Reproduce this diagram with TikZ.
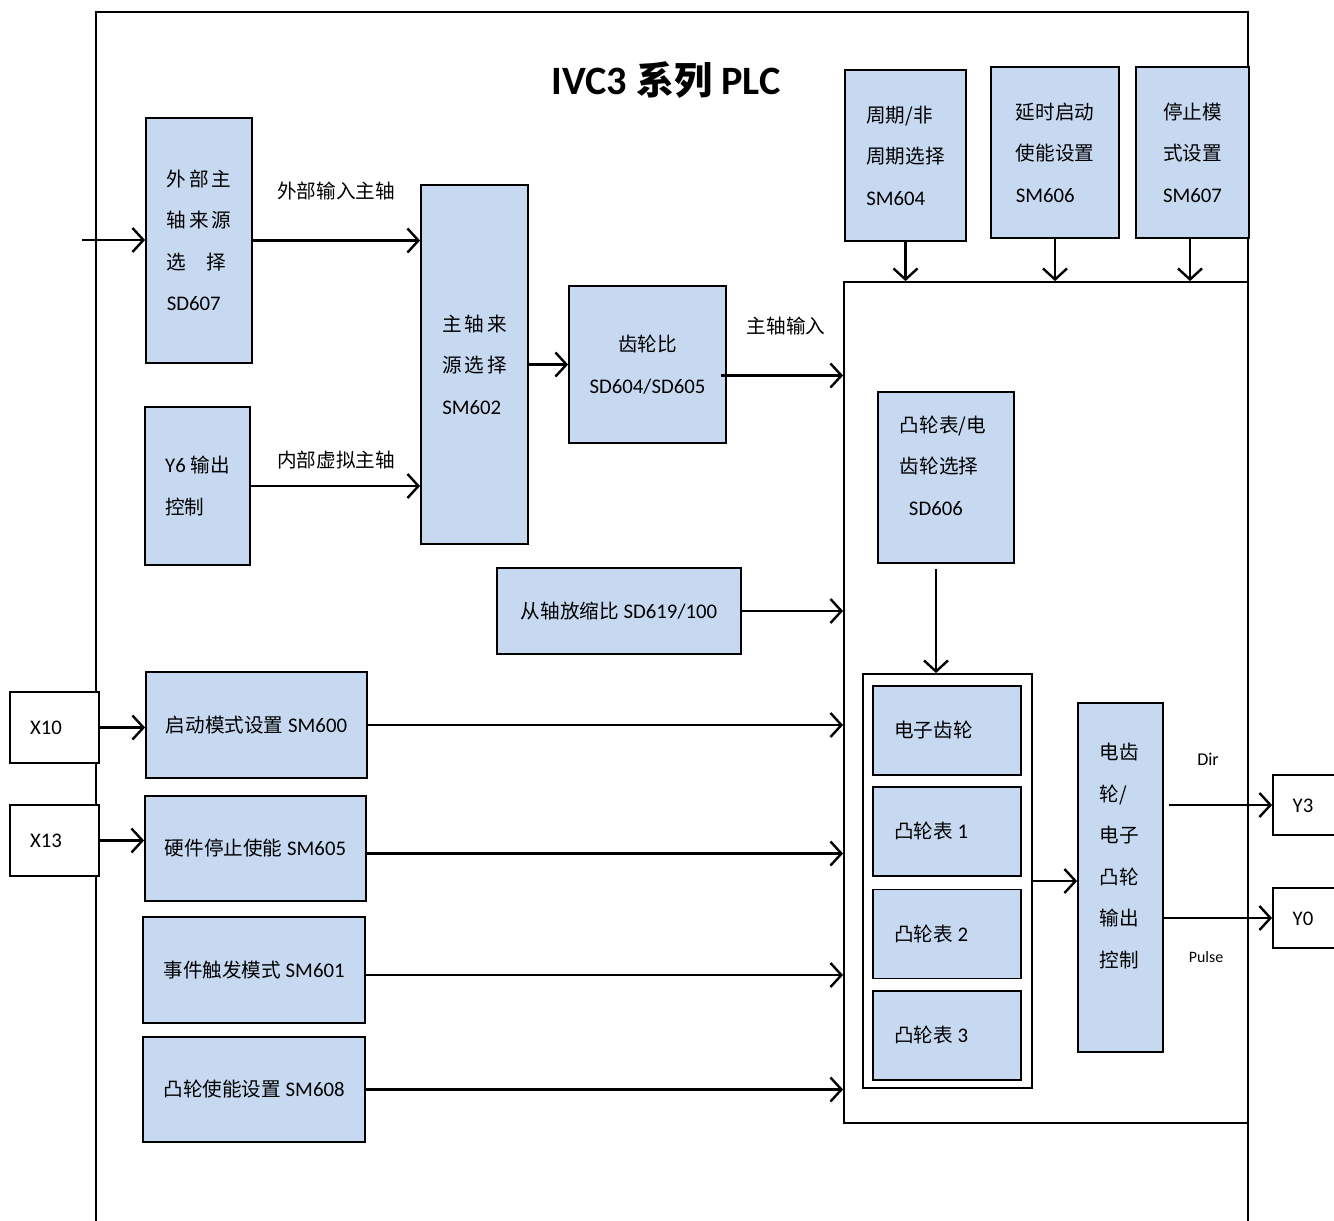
\documentclass[tikz,border=0pt]{standalone}
\usepackage{fontspec}
\setmainfont{Carlito}[Scale=1.06]
\newfontfamily\cjk{Noto Sans CJK SC}
\newfontfamily\cjksp[LetterSpace=14]{Noto Sans CJK SC}
\usetikzlibrary{arrows.meta}
\definecolor{boxblue}{HTML}{C6D9F1}
\newcommand\C[1]{{\cjk #1}}
\begin{document}
\begin{tikzpicture}[x=1pt,y=-1pt,
  box/.style={draw=black, line width=1.8pt, fill=boxblue, inner sep=0pt,
    font=\fontsize{19.6}{41.5}\selectfont},
  wbox/.style={draw=black, line width=1.8pt, fill=white, inner sep=0pt},
  txt/.style={inner sep=0pt, font=\fontsize{19.6}{41.5}\selectfont},
  arr/.style={line width=2.4pt, -{Straight Barb[length=11pt,width=24pt]}}]
\path[use as bounding box] (0,0) rectangle (1334,1221);
\clip (0,0) rectangle (1334,1221);

% outer frame
\draw[line width=2pt] (96,1230) -- (96,12) -- (1248,12) -- (1248,1230);
\node[inner sep=0pt, font=\fontsize{38}{42}\selectfont\bfseries] (title) at (666,80) {IVC3 {\cjk 系列} PLC};

% core box
\node[draw=black, line width=1.8pt, fill=white, minimum width=404pt, minimum height=841pt, inner sep=0pt] (core) at (1046,702.5) {};

% left column
\node[box, minimum width=106pt, minimum height=245pt, align=left] (sd607) at (199,240.5)
  {{\cjksp 外部主}\\{\cjksp 轴来源}\\{\cjksp 选\quad 择}\\SD607};
\node[box, minimum width=105pt, minimum height=158pt, align=left] (y6) at (197.5,486)
  {Y6 \C{输出}\\\C{控制}};
\node[box, minimum width=107pt, minimum height=359pt, align=left] (sm602) at (474.5,364.5)
  {{\cjksp 主轴来}\\{\cjksp 源选择}\\SM602};
\node[box, minimum width=157pt, minimum height=157pt, align=center] (gear) at (647.5,364.5)
  {\C{齿轮比}\\SD604/SD605};
\node[box, minimum width=244pt, minimum height=86pt] (sd619) at (619,611)
  {\C{从轴放缩比} SD619/100};

% top boxes
\node[box, minimum width=121pt, minimum height=171pt, align=left] (sm604) at (905.5,155.5)
  {\C{周期/非}\\\C{周期选择}\\SM604};
\node[box, minimum width=128pt, minimum height=171pt, align=left] (sm606) at (1055,152.5)
  {\C{延时启动}\\\C{使能设置}\\SM606};
\node[box, minimum width=113pt, minimum height=171pt, align=left] (sm607) at (1192.5,152.5)
  {\C{停止模}\\\C{式设置}\\SM607};

% SD606
\node[box, minimum width=136pt, minimum height=171pt] (sd606) at (946,477.5) {};
\node[txt, align=left] (sd606t) at (943,465.5) {\C{凸轮表/电}\\\C{齿轮选择}\\\hspace{9pt}SD606};

% group
\node[wbox, minimum width=169pt, minimum height=414pt] (group) at (947.5,881) {};
\node[box, minimum width=148pt, minimum height=89pt] (eg) at (947,730.5) {};
\node[box, minimum width=148pt, minimum height=89pt] (cam1) at (947,831.5) {};
\node[box, minimum width=148pt, minimum height=89pt] (cam2) at (947,934) {};
\node[box, minimum width=148pt, minimum height=89pt] (cam3) at (947,1035.5) {};
\node[txt, anchor=west] (egt) at (894,730.5) {\C{电子齿轮}};
\node[txt, anchor=west] (cam1t) at (894,831.5) {\C{凸轮表} 1};
\node[txt, anchor=west] (cam2t) at (894,934) {\C{凸轮表} 2};
\node[txt, anchor=west] (cam3t) at (894,1035.5) {\C{凸轮表} 3};

% control
\node[box, minimum width=85pt, minimum height=349pt] (ctrl) at (1120.5,877.5) {};
\node[txt, align=left] (ctrlt) at (1119,856)
  {\C{电齿}\\\C{轮/}\\\C{电子}\\\C{凸轮}\\\C{输出}\\\C{控制}};

% outputs
\node[wbox, minimum width=72pt, minimum height=60pt] (y3) at (1309,805) {};
\node[txt] (y3t) at (1303,806) {Y3};
\node[wbox, minimum width=72pt, minimum height=60pt] (y0) at (1309,918) {};
\node[txt] (y0t) at (1303,919) {Y0};

% inputs
\node[wbox, minimum width=89pt, minimum height=71pt] (x10) at (54.5,727.5) {};
\node[txt] (x10t) at (46,727.5) {X10};
\node[wbox, minimum width=89pt, minimum height=71pt] (x13) at (54.5,840.5) {};
\node[txt] (x13t) at (46,841) {X13};

% wide boxes
\node[box, minimum width=221pt, minimum height=106pt] (sm600) at (256.5,725) {\C{启动模式设置} SM600};
\node[box, minimum width=221pt, minimum height=105pt] (sm605) at (255.5,848.5) {\C{硬件停止使能} SM605};
\node[box, minimum width=222pt, minimum height=106pt] (sm601) at (254,970) {\C{事件触发模式} SM601};
\node[box, minimum width=222pt, minimum height=105pt] (sm608) at (254,1089.5) {\C{凸轮使能设置} SM608};

% labels
\node[txt] (l1) at (336,191) {\C{外部输入主轴}};
\node[txt] (l2) at (336,460) {\C{内部虚拟主轴}};
\node[txt] (l3) at (786,326) {\C{主轴输入}};
\node[inner sep=0pt, font=\fontsize{17}{20}\selectfont] (ldir) at (1208,759) {Dir};
\node[inner sep=0pt, font=\fontsize{15}{18}\selectfont] (lpulse) at (1206,957) {Pulse};

% connectors
\coordinate (in) at (82,240);
\draw[arr] (in) -- (in -| sd607.west);
\draw[arr] (sd607.east) -- (sd607.east -| sm602.west);
\draw[arr] (y6.east) -- (y6.east -| sm602.west);
\draw[arr] (sm602.east) -- (gear.west);
\coordinate (g1) at ([yshift=-11pt]gear.east);
\draw[arr] ([xshift=-6pt]g1) -- (g1 -| core.west);
\draw[arr] (sm604.south) -- (sm604.south |- core.north);
\draw[arr] (sm606.south) -- (sm606.south |- core.north);
\coordinate (s7) at ([xshift=-2.5pt]sm607.south);
\draw[arr] (s7) -- (s7 |- core.north);
\draw[arr] (sd619.east) -- (sd619.east -| core.west);
\coordinate (s6) at ([xshift=-10pt,yshift=-5pt]sd606.south);
\draw[arr] (s6) -- (s6 |- group.north);
\draw[arr] (x10.east) -- (x10.east -| sm600.west);
\draw[arr] (x13.east) -- (x13.east -| sm605.west);
\draw[arr] (sm600.east) -- (sm600.east -| core.west);
\coordinate (c5) at ([yshift=-5pt]sm605.east);
\draw[arr] (c5) -- (c5 -| core.west);
\coordinate (c1) at ([yshift=-5pt]sm601.east);
\draw[arr] (c1) -- (c1 -| core.west);
\draw[arr] (sm608.east) -- (sm608.east -| core.west);
\draw[arr] (group.east) -- (group.east -| ctrl.west);
\coordinate (o3) at ([xshift=5pt]y3.west -| ctrl.east);
\draw[arr] (o3) -- (y3.west);
\draw[arr] (y0.west -| ctrl.east) -- (y0.west);
\end{tikzpicture}
\end{document}
